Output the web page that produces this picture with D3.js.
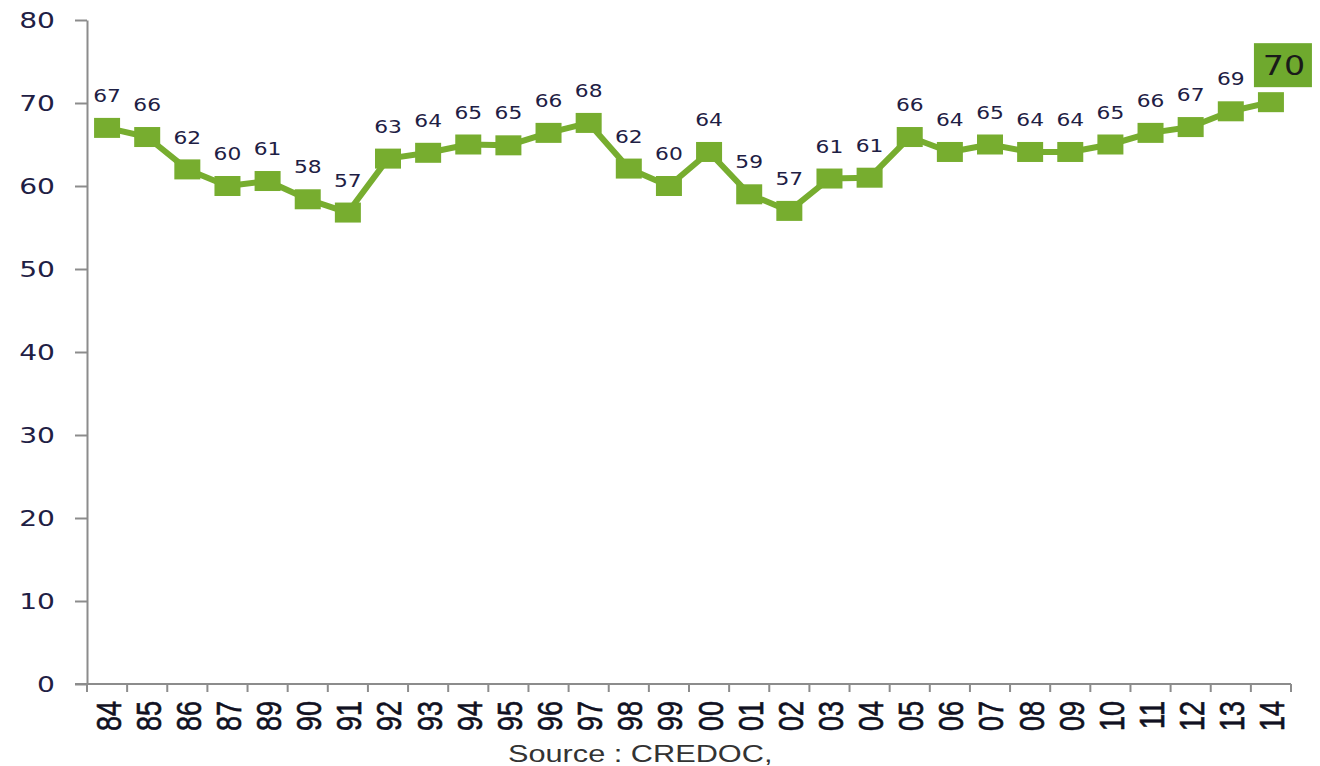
<!DOCTYPE html>
<html>
<head>
<meta charset="utf-8">
<script src="https://cdn.jsdelivr.net/npm/d3@7"></script>
<style>
  html, body { margin: 0; padding: 0; background: #fff; }
  svg { display: block; }
</style>
</head>
<body>
<div id="chart"></div>
<script>
// Data
const years = ["84","85","86","87","89","90","91","92","93","94","95","96","97","98","99",
               "00","01","02","03","04","05","06","07","08","09","10","11","12","13","14"];
const values = [67.0, 65.9, 62.0, 60.0, 60.6, 58.4, 56.8, 63.3, 64.0, 65.0, 64.9, 66.4, 67.6, 62.1, 60.0,
                64.1, 59.0, 57.0, 60.9, 61.0, 65.9, 64.1, 65.0, 64.1, 64.1, 65.0, 66.4, 67.1, 69.0, 70.1];
const yTicks = [0, 10, 20, 30, 40, 50, 60, 70, 80];
const sourceText = "Source : CREDOC,";

const W = 1320, H = 766;
const plotLeft = 87, plotRight = 1291, plotTop = 20, plotBottom = 684;
const green = "#77ad2f";
const textCol = "#1e2044";
const sx = 1.28; // the original picture is stretched sideways

const svg = d3.select("#chart").append("svg")
    .attr("width", W).attr("height", H);

const x = d3.scaleBand().domain(years).range([plotLeft, plotRight]);
const y = d3.scaleLinear().domain([0, 80]).range([plotBottom, plotTop]);

// y axis
const yAxis = svg.append("g")
    .attr("transform", `translate(${plotLeft},0)`)
    .call(d3.axisLeft(y).tickValues(yTicks).tickSize(12).tickSizeOuter(0).tickFormat(""));
yAxis.selectAll("line").attr("stroke", "#8c8c8c").attr("stroke-width", 2);
yAxis.select(".domain").attr("stroke", "#8c8c8c").attr("stroke-width", 2);

svg.append("g").selectAll("text")
    .data(yTicks)
    .enter().append("text")
    .attr("transform", d => `translate(55,${y(d)}) scale(${sx},1)`)
    .attr("text-anchor", "end")
    .attr("dy", "0.36em")
    .style("font-family", "'DejaVu Sans', Verdana, sans-serif")
    .style("font-size", "22px")
    .attr("fill", textCol)
    .text(d => d);

// x axis: ticks on the band edges
svg.append("line")
    .attr("x1", plotLeft - 12).attr("x2", plotRight)
    .attr("y1", plotBottom).attr("y2", plotBottom)
    .attr("stroke", "#8c8c8c").attr("stroke-width", 2);

const edges = years.map(d => x(d)).concat([plotRight]);
svg.append("g").selectAll("line")
    .data(edges)
    .enter().append("line")
    .attr("x1", d => d).attr("x2", d => d)
    .attr("y1", plotBottom).attr("y2", plotBottom + 8)
    .attr("stroke", "#8c8c8c").attr("stroke-width", 2);

svg.append("g").selectAll("text")
    .data(years)
    .enter().append("text")
    .attr("transform", d => `translate(${x(d) + x.bandwidth() / 2 + 1},701) scale(${sx},1) rotate(-90)`)
    .attr("text-anchor", "end")
    .attr("dy", "0.36em")
    .style("font-family", "'Liberation Sans', Arial, sans-serif")
    .style("font-size", "27px")
    .attr("fill", "#111122")
    .attr("stroke", "#111122")
    .attr("stroke-width", 0.5)
    .text(d => d);

// line
const pts = years.map((d, i) => ({ year: d, value: values[i] }));
const cx = d => x(d.year) + x.bandwidth() / 2;

svg.append("path")
    .datum(pts)
    .attr("fill", "none")
    .attr("stroke", green)
    .attr("stroke-width", 6)
    .attr("stroke-linejoin", "round")
    .attr("d", d3.line().x(cx).y(d => y(d.value)));

// square markers
svg.append("g").selectAll("rect")
    .data(pts)
    .enter().append("rect")
    .attr("x", d => cx(d) - 13)
    .attr("y", d => y(d.value) - 10)
    .attr("width", 26)
    .attr("height", 20)
    .attr("fill", green);

// value labels (all but the last, which gets a box)
const fmt = d3.format(".0f");
svg.append("g").selectAll("text")
    .data(pts.slice(0, -1))
    .enter().append("text")
    .attr("transform", d => `translate(${cx(d)},${y(d.value) - 32}) scale(${sx},1)`)
    .attr("text-anchor", "middle")
    .attr("dy", "0.36em")
    .style("font-family", "'DejaVu Sans', Verdana, sans-serif")
    .style("font-size", "17px")
    .attr("fill", textCol)
    .text(d => fmt(d.value));

const last = pts[pts.length - 1];
const bx = cx(last) + 12, by = y(last.value) - 37;
svg.append("rect")
    .attr("x", bx - 29).attr("y", by - 22)
    .attr("width", 58).attr("height", 44)
    .attr("fill", "#6fa92e");
svg.append("text")
    .attr("transform", `translate(${bx + 1},${by}) scale(${sx},1)`)
    .attr("text-anchor", "middle")
    .attr("dy", "0.36em")
    .style("font-family", "'DejaVu Sans', Verdana, sans-serif")
    .style("font-size", "26px")
    .attr("fill", "#1a1a1a")
    .text(fmt(last.value));

// source
svg.append("text")
    .attr("transform", `translate(508,762) scale(${sx},1)`)
    .style("font-family", "'Liberation Sans', Arial, sans-serif")
    .style("font-size", "24px")
    .attr("fill", "#333333")
    .text(sourceText);
</script>
</body>
</html>
